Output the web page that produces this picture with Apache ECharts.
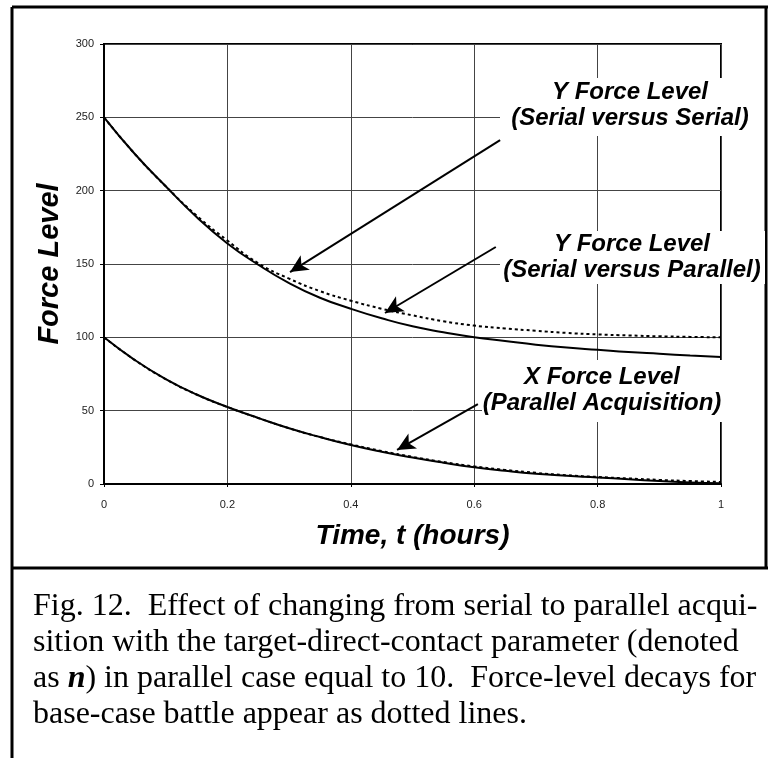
<!doctype html>
<html lang="en">

<head>
	<meta charset="UTF-8">
	<title>Force Level vs Time</title>
	<script src="https://cdnjs.cloudflare.com/ajax/libs/echarts/6.0.0/echarts.min.js"></script>
	<style>
		html, body { margin: 0; padding: 0; background: #fff; }
		#main { width: 768px; height: 758px; }
	</style>
</head>

<body>
	<div id="main"></div>
	<script type="text/javascript">
		// values, one every 0.05 h
		var tVals = [0, 0.05, 0.1, 0.15, 0.2, 0.25, 0.3, 0.35, 0.4, 0.45, 0.5, 0.55, 0.6, 0.65, 0.7, 0.75, 0.8, 0.85, 0.9, 0.95, 1];
		var ySerialParallel = [250, 225, 203, 182, 164, 149.5, 137, 127, 119.5, 113, 107.5, 103.5, 100, 97.5, 95, 93, 91.5, 90, 88.8, 87.6, 86.6];
		var ySerialSerial = [250, 225, 203, 183, 166, 150.5, 140, 131.5, 125, 119.5, 115, 111, 108, 106, 104.5, 103, 102, 101.3, 100.7, 100.3, 100];
		var xParallel = [100, 84.5, 71.5, 61, 52.5, 45, 38, 32, 26.6, 22, 18, 14.5, 11.4, 9, 7, 5.6, 4.5, 3.2, 2, 1, 0.5];
		var xBase = [100, 84.5, 71.5, 61, 52.5, 45, 38, 32, 27, 22.5, 18.5, 15, 12, 9.6, 7.6, 6, 4.8, 3.8, 2.8, 2, 1.4];

		// arrows in data units: [tail, head]
		var arrowSerialSerial = [[0.642, 234.5], [0.3015, 144.5]];
		var arrowSerialParallel = [[0.635, 161.6], [0.4554, 116.6]];
		var arrowParallel = [[0.606, 54.5], [0.475, 23.2]];

		function pairs(vals) {
			return tVals.map(function (t, i) { return [t, vals[i]]; });
		}

		var myChart = echarts.init(document.getElementById('main'));

		var sansFont = '"Liberation Sans", Arial, sans-serif';
		var serifFont = '"Liberation Serif", "Times New Roman", serif';
		var labelFont = 'italic bold 24px ' + sansFont;

		function noteBox(x, y, w, h, cx, cy, text) {
			return {
				type: 'group',
				z: 100,
				children: [
					{ type: 'rect', shape: { x: x, y: y, width: w, height: h }, style: { fill: '#fff' }, z: 100 },
					{
						type: 'text', x: cx, y: cy, z: 101,
						style: {
							text: text, font: labelFont, fill: '#000',
							textAlign: 'center', textVerticalAlign: 'middle', lineHeight: 26
						}
					}
				]
			};
		}

		function arrow(a) {
			return [{ coord: a[0], symbol: 'none' }, { coord: a[1], symbol: 'arrow' }];
		}

		option = {
			animation: false,
			grid: {
				left: 104, right: 47, top: 44, bottom: 274,
				show: true, borderColor: '#000', borderWidth: 2
			},
			xAxis: {
				type: 'value', min: 0, max: 1, interval: 0.2,
				name: 'Time, t (hours)', nameLocation: 'middle', nameGap: 38,
				nameTextStyle: { fontFamily: sansFont, fontSize: 28, fontWeight: 'bold', fontStyle: 'italic', color: '#000' },
				axisLine: { lineStyle: { color: '#000', width: 2 } },
				axisTick: { show: true, length: 3, lineStyle: { color: '#000' } },
				axisLabel: { fontFamily: sansFont, fontSize: 11, color: '#222', margin: 15 },
				splitLine: { lineStyle: { color: '#444', width: 1 } }
			},
			yAxis: {
				type: 'value', min: 0, max: 300, interval: 50,
				name: 'Force Level', nameLocation: 'middle', nameGap: 40,
				nameTextStyle: { fontFamily: sansFont, fontSize: 29, fontWeight: 'bold', fontStyle: 'italic', color: '#000' },
				axisLine: { lineStyle: { color: '#000', width: 2 } },
				axisTick: { show: true, length: 4, lineStyle: { color: '#000' } },
				axisLabel: { fontFamily: sansFont, fontSize: 11, color: '#222', margin: 10 },
				splitLine: { lineStyle: { color: '#444', width: 1 } }
			},
			series: [
				{
					type: 'line', smooth: true, symbol: 'none', data: pairs(ySerialParallel),
					lineStyle: { color: '#000', width: 2 },
					markLine: {
						silent: true, symbolSize: [13, 18], label: { show: false },
						lineStyle: { color: '#000', width: 2, type: 'solid' },
						data: [arrow(arrowSerialSerial), arrow(arrowSerialParallel), arrow(arrowParallel)]
					}
				},
				{
					type: 'line', smooth: true, symbol: 'none', data: pairs(ySerialSerial),
					lineStyle: { color: '#000', width: 2, type: [3, 3] }
				},
				{
					type: 'line', smooth: true, symbol: 'none', data: pairs(xParallel),
					lineStyle: { color: '#000', width: 2 }
				},
				{
					type: 'line', smooth: true, symbol: 'none', data: pairs(xBase),
					lineStyle: { color: '#000', width: 2, type: [3, 3] }
				}
			],
			graphic: [
				// frame round the figure and its caption
				{ type: 'line', shape: { x1: 12, y1: 7, x2: 768, y2: 7 }, style: { stroke: '#000', lineWidth: 3 } },
				{ type: 'line', shape: { x1: 12, y1: 7, x2: 12, y2: 758 }, style: { stroke: '#000', lineWidth: 3 } },
				{ type: 'line', shape: { x1: 766, y1: 7, x2: 766, y2: 568 }, style: { stroke: '#000', lineWidth: 3 } },
				{ type: 'line', shape: { x1: 12, y1: 568, x2: 768, y2: 568 }, style: { stroke: '#000', lineWidth: 3 } },
				noteBox(500, 78, 252, 58, 630, 105, 'Y Force Level\n(Serial versus Serial)'),
				noteBox(500, 231, 265, 53, 632, 257, 'Y Force Level\n(Serial versus Parallel)'),
				noteBox(482, 360, 244, 62, 602, 390, 'X Force Level\n(Parallel Acquisition)'),
				{
					type: 'text', x: 33, y: 589, z: 100,
					style: {
						text: 'Fig. 12.  Effect of changing from serial to parallel acqui-\nsition with the target-direct-contact parameter (denoted\nas {n|n}) in parallel case equal to 10.  Force-level decays for\nbase-case battle appear as dotted lines.',
						fontFamily: serifFont, fontSize: 32, lineHeight: 36, fill: '#000',
						rich: {
							n: { fontFamily: serifFont, fontSize: 32, fontWeight: 'bold', fontStyle: 'italic', lineHeight: 36 }
						}
					}
				}
			]
		};
		myChart.setOption(option);
	</script>
</body>

</html>
